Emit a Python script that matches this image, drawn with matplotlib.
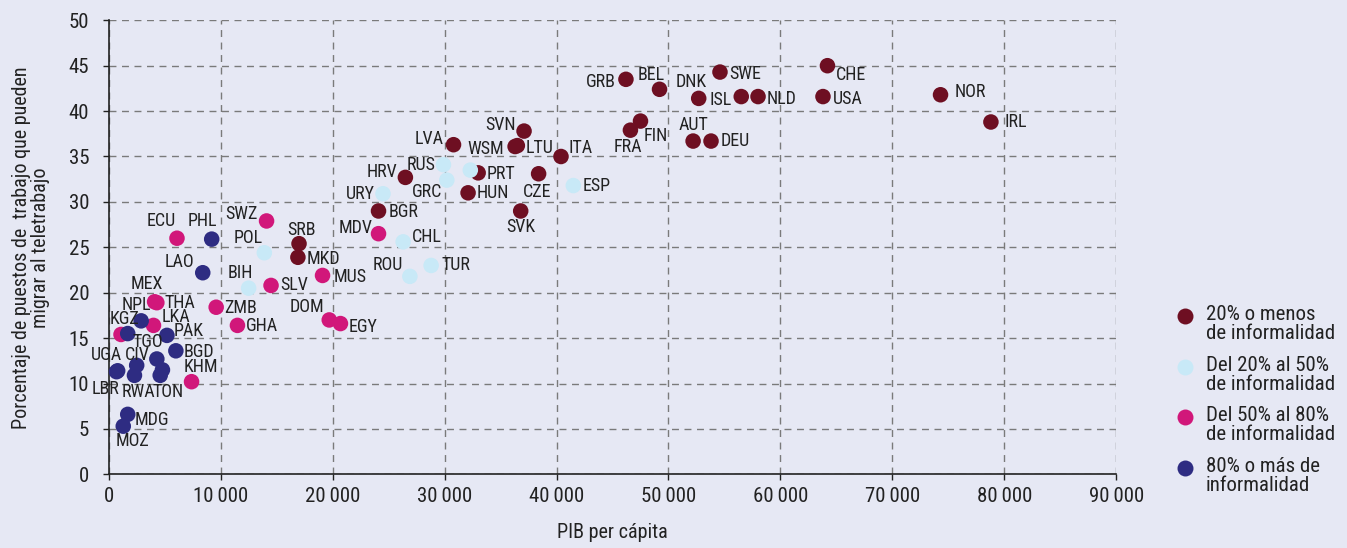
"""Teletrabajo potencial vs PIB per capita, por nivel de informalidad."""

import matplotlib
matplotlib.use("Agg")
import matplotlib.pyplot as plt
from matplotlib.ticker import FuncFormatter
from matplotlib.lines import Line2D

FONT = ["Roboto Condensed", "Roboto", "DejaVu Sans"]
BG = "#e6e8f4"
GRID_COLOR = "#7a7a7a"
TEXT_COLOR = "#222222"

# grupos de informalidad
GROUP_LABELS = [
    "20% o menos\nde informalidad",
    "Del 20% al 50%\nde informalidad",
    "Del 50% al 80%\nde informalidad",
    "80% o más de\ninformalidad",
]
GROUP_COLORS = ["#6e0f22", "#c8e9f7", "#d1177a", "#2e2c82"]

# 20% o menos
LOW_CODES = ["CHE", "USA", "NOR", "IRL", "SWE", "DNK", "ISL", "NLD", "BEL", "GRB",
             "FIN", "FRA", "AUT", "DEU", "ITA", "SVN", "LVA", "WSM", "LTU", "HRV",
             "PRT", "HUN", "CZE", "BGR", "SVK", "SRB", "MKD"]
LOW_GDP = [64200, 63800, 74300, 78800, 54600, 52700, 56500, 58000, 49200, 46200,
           47500, 46600, 52200, 53800, 40400, 37100, 30800, 36300, 36500, 26500,
           33000, 32100, 38400, 24100, 36800, 17000, 16900]
LOW_TELE = [45.0, 41.6, 41.8, 38.8, 44.3, 41.4, 41.6, 41.6, 42.4, 43.5,
            38.9, 37.9, 36.7, 36.7, 35.0, 37.8, 36.3, 36.1, 36.2, 32.7,
            33.2, 31.0, 33.1, 29.0, 29.0, 25.4, 23.9]

# del 20% al 50%
MID_CODES = ["RUS", "GRC", "", "ESP", "URY", "CHL", "TUR", "ROU", "POL", "BIH"]
MID_GDP = [29900, 30200, 32300, 41500, 24500, 26300, 28800, 26900, 13900, 12500]
MID_TELE = [34.1, 32.4, 33.5, 31.8, 30.9, 25.6, 23.0, 21.8, 24.4, 20.5]

# del 50% al 80%
HIGH_CODES = ["MDV", "EGY", "DOM", "MUS", "ECU", "SWZ", "SLV", "MEX", "THA", "ZMB",
              "GHA", "LKA", "KGZ", "KHM"]
HIGH_GDP = [24100, 20700, 19700, 19100, 6100, 14100, 14500, 4100, 4300, 9600,
            11500, 4000, 1100, 7400]
HIGH_TELE = [26.5, 16.6, 17.0, 21.9, 26.0, 27.9, 20.8, 19.0, 18.9, 18.4,
             16.4, 16.4, 15.4, 10.2]

# 80% o más
VHIGH_CODES = ["PHL", "LAO", "NPL", "", "PAK", "TGO", "BGD", "UGA", "LBR", "CIV",
               "RWA", "TON", "", "MDG", "MOZ"]
VHIGH_GDP = [9200, 8400, 2900, 1700, 5200, 4300, 6000, 800, 700, 2500,
             2300, 4600, 4800, 1700, 1300]
VHIGH_TELE = [25.9, 22.2, 16.9, 15.5, 15.3, 12.7, 13.6, 11.4, 11.3, 12.0,
              10.9, 10.9, 11.5, 6.6, 5.3]

X_TICKS = [0, 10000, 20000, 30000, 40000, 50000, 60000, 70000, 80000, 90000]
Y_TICKS = [0, 5, 10, 15, 20, 25, 30, 35, 40, 45, 50]

# label placement: (dx, dy) in pixels from the dot, horizontal alignment
LABEL_POS = {
    "CHE": (8, -9, "left"), "USA": (10, -2, "left"), "NOR": (14, 3, "left"),
    "IRL": (14, 0, "left"), "SWE": (9, -2, "left"), "DNK": (-8, 16, "center"),
    "ISL": (-9, -3, "right"), "NLD": (9, -2, "left"), "BEL": (-8, 14, "center"),
    "GRB": (-10, -3, "right"), "FIN": (3, -15, "left"), "FRA": (-3, -17, "center"),
    "AUT": (0, 16, "center"), "DEU": (10, 0, "left"), "ITA": (7, 8, "left"),
    "SVN": (-8, 6, "right"), "LVA": (-10, 6, "right"), "WSM": (-11, -2, "right"),
    "LTU": (8, -2, "left"), "HRV": (-8, 5, "right"), "PRT": (8, -1, "left"),
    "HUN": (9, 0, "left"), "CZE": (-1, -18, "center"), "BGR": (10, -1, "left"),
    "SVK": (0, -16, "center"), "SRB": (2, 14, "center"), "MKD": (9, -2, "left"),
    "RUS": (-8, 0, "right"), "GRC": (-5, -12, "right"), "ESP": (9, 0, "left"),
    "URY": (-8, 0, "right"), "CHL": (9, 5, "left"), "TUR": (10, 0, "left"),
    "ROU": (-7, 11, "right"), "POL": (-16, 15, "center"), "BIH": (-8, 15, "center"),
    "MDV": (-6, 6, "right"), "EGY": (8, -3, "left"), "DOM": (-5, 13, "right"),
    "MUS": (11, -2, "left"), "ECU": (-16, 17, "center"), "SWZ": (-9, 7, "right"),
    "SLV": (9, 0, "left"), "MEX": (-8, 18, "center"), "THA": (8, 0, "left"),
    "ZMB": (8, -1, "left"), "GHA": (8, -1, "left"), "LKA": (8, 8, "left"),
    "KGZ": (3, 15, "center"), "KHM": (9, 15, "center"), "PHL": (-9, 18, "center"),
    "LAO": (-8, 11, "right"), "NPL": (-5, 16, "center"), "PAK": (7, 4, "left"),
    "TGO": (-9, 17, "center"), "BGD": (8, -1, "left"), "UGA": (-11, 16, "center"),
    "LBR": (-11, -17, "center"), "CIV": (1, 10, "center"), "RWA": (4, -17, "center"),
    "TON": (8, -17, "center"), "MDG": (7, -6, "left"), "MOZ": (9, -15, "center"),
}

plt.rcParams["font.family"] = FONT

W, H = 1347, 548
fig = plt.figure(figsize=(W / 100, H / 100), dpi=100, facecolor=BG)
ax = fig.add_axes([108.7 / W, 1 - 474.3 / H, 1007.6 / W, 454.0 / H], facecolor=BG)

groups = [
    (LOW_CODES, LOW_GDP, LOW_TELE),
    (MID_CODES, MID_GDP, MID_TELE),
    (HIGH_CODES, HIGH_GDP, HIGH_TELE),
    (VHIGH_CODES, VHIGH_GDP, VHIGH_TELE),
]
for (codes, gdp, tele), color in zip(groups, GROUP_COLORS):
    ax.scatter(gdp, tele, s=125, color=color, edgecolors="none", zorder=3,
               clip_on=False)
    for code, gx, ty in zip(codes, gdp, tele):
        if not code:
            continue
        dx, dy, ha = LABEL_POS.get(code, (9, 0, "left"))
        ax.annotate(code, (gx, ty), xytext=(dx, dy), textcoords="offset pixels",
                    ha=ha, va="center", fontsize=13, color=TEXT_COLOR, zorder=4)

ax.set_xlim(0, 90000)
ax.set_ylim(0, 50)
ax.set_xticks(X_TICKS)
ax.set_yticks(Y_TICKS)
ax.xaxis.set_major_formatter(
    FuncFormatter(lambda v, p: f"{int(v):,}".replace(",", "\u2009") if v else "0"))
ax.tick_params(axis="both", labelsize=15, length=4, width=1, colors=TEXT_COLOR,
               direction="out")
ax.tick_params(axis="x", pad=5)
ax.tick_params(axis="y", pad=10)

ax.grid(True, linestyle=(0, (5, 4)), color=GRID_COLOR, linewidth=1, zorder=0)
for side in ("top", "right"):
    ax.spines[side].set_visible(False)
for side in ("left", "bottom"):
    ax.spines[side].set_color(TEXT_COLOR)
    ax.spines[side].set_linewidth(1.2)
    ax.spines[side].set_zorder(2)

ax.set_xlabel("PIB per cápita", fontsize=14.5, color=TEXT_COLOR)
ax.xaxis.set_label_coords(0.5, -(532 - 474.3) / 454.0)
ax.xaxis.label.set_va("center")
ax.set_ylabel("Porcentaje de puestos de  trabajo que pueden\nmigrar al teletrabajo",
              fontsize=14.5, color=TEXT_COLOR, linespacing=1.0)
ax.yaxis.set_label_coords((50 - 108.7) / 1007.6, 0.5)

# legend drawn by hand so each dot sits on the first line of its label
LEG_DOT_X, LEG_TEXT_X = 1185, 1206
LEG_FIRST_Y, LEG_STEP = 316, 50.7
for i, (label, color) in enumerate(zip(GROUP_LABELS, GROUP_COLORS)):
    y = LEG_FIRST_Y + i * LEG_STEP
    fig.add_artist(Line2D([LEG_DOT_X / W], [1 - y / H], transform=fig.transFigure,
                          marker="o", markersize=11.5, linestyle="none",
                          markerfacecolor=color, markeredgecolor="none"))
    fig.text(LEG_TEXT_X / W, 1 - (y - 11) / H, label, va="top", ha="left",
             fontsize=15, color=TEXT_COLOR, linespacing=1.0)

fig.savefig("out.png", dpi=100, facecolor=BG)
